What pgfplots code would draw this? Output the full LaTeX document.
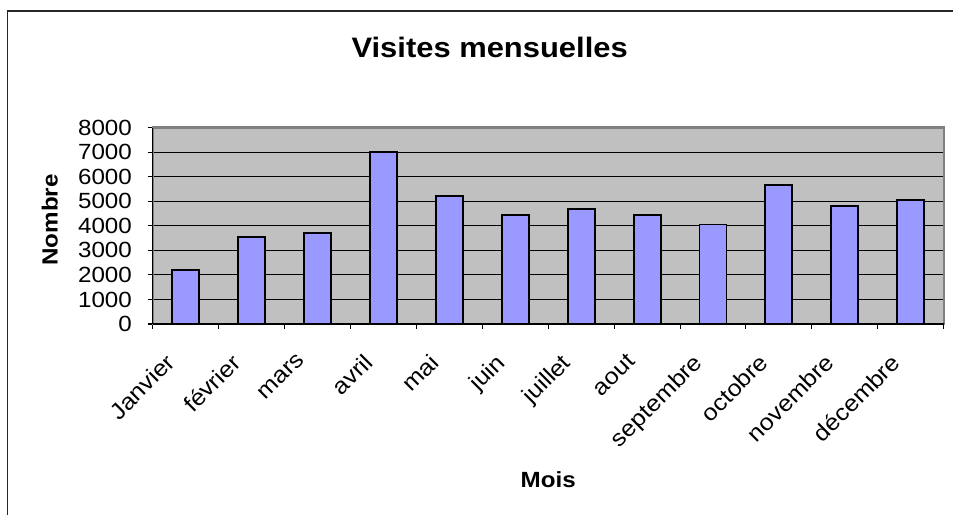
\documentclass[border=0pt]{standalone}
\usepackage{fontspec}
\setmainfont[FakeStretch=1.1]{Liberation Sans}
\usepackage{pgfplots}
\pgfplotsset{compat=1.18}
\definecolor{plotbg}{HTML}{C0C0C0}
\definecolor{plotframe}{HTML}{808080}
\definecolor{barfill}{HTML}{9999FF}

\pgfplotstableread{
idx value
0 2200
1 3560
2 3720
3 7020
4 5200
5 4450
6 4700
7 4450
8 4050
9 5670
10 4800
11 5050
}\visites

\begin{document}
\begin{tikzpicture}
\useasboundingbox (0,0) rectangle (19.06cm,10.30cm);
\draw[line width=0.9pt, black!85] (0.15cm,0) -- (0.15cm,10.08cm) -- (19.06cm,10.08cm);
\begin{axis}[
  at={(3.054cm,3.82cm)}, anchor=south west,
  scale only axis,
  width=15.82cm, height=3.93cm,
  xmin=-0.5, xmax=11.5,
  ymin=0, ymax=8000,
  axis background/.style={fill=plotbg},
  axis line style={draw=plotframe, line width=1.2pt},
  xtick={-0.5,0.5,...,11.5},
  xticklabels={Janvier,février,mars,avril,mai,juin,juillet,aout,septembre,octobre,novembre,décembre,{}},
  xticklabel style={xshift=0.24cm, yshift=-0.36cm, rotate=45, anchor=north east, font=\fontsize{13}{15}\selectfont, inner sep=2pt},
  ytick={0,1000,...,8000},
  yticklabel style={font=\fontsize{12.5}{14}\selectfont, inner sep=2pt, xshift=-0.24cm},
  /pgf/number format/assume math mode=true,
  /pgf/number format/1000 sep={},
  scaled y ticks=false,
  xtick pos=bottom, ytick pos=left,
  tick align=outside,
  major tick length=0.1cm,
  tick style={black, line width=0.6pt},
  ymajorgrids,
  grid style={black, line width=0.55pt},
  title={Visites mensuelles},
  title style={at={(rel axis cs:0.426,1.355)}, anchor=center, font=\bfseries\fontsize{16}{18}\selectfont},
  xlabel={Mois},
  xlabel style={at={(rel axis cs:0.5,-0.794)}, anchor=center, font=\bfseries\fontsize{12.5}{14}\selectfont},
  ylabel={Nombre},
  ylabel style={at={(rel axis cs:-0.13,0.53)}, anchor=center, rotate=0, font=\bfseries\fontsize{12.5}{14}\selectfont},
  clip=false,
]
\addplot[ybar, bar width=0.54cm, fill=barfill, draw=black, line width=1.1pt] table[x=idx, y=value] {\visites};
\draw[black, line width=0.8pt] (rel axis cs:0,0) -- (rel axis cs:0,1);
\draw[black, line width=0.8pt] (rel axis cs:0,0) -- (rel axis cs:1,0);
\end{axis}
\end{tikzpicture}
\end{document}
